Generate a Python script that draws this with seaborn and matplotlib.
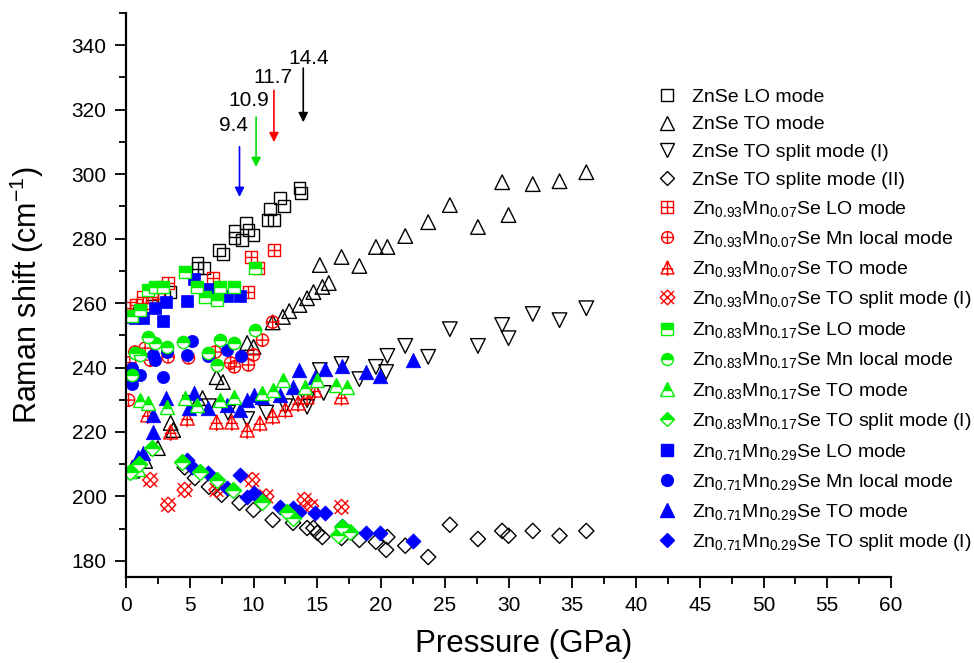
import numpy as np
import seaborn as sns
import matplotlib.pyplot as plt
from matplotlib.path import Path
from matplotlib.lines import Line2D
from matplotlib.ticker import MultipleLocator

# ---- data (pressure in GPa, Raman shift in cm-1) ----
znse_lo_x = [0.3, 1.0, 2.0, 3.0, 3.5, 5.6, 5.6, 6.1, 7.3, 7.6, 8.5, 8.5, 9.1, 9.4, 9.6, 10.0, 11.1, 11.3, 11.6, 12.1, 12.4, 13.6, 13.7]
znse_lo_y = [256, 257, 259, 262, 263.4, 270.9, 272.4, 270.9, 276.4, 275.2, 280.2, 282.3, 279.5, 284.8, 282.6, 281.1, 285.7, 289.1, 285.7, 292.6, 290.1, 295.7, 294.1]

znse_to_x = [0.5, 1.5, 2.5, 3.5, 3.7, 6.0, 7.1, 7.6, 9.5, 10.0, 11.5, 12.3, 12.8, 13.6, 14.2, 14.7, 15.4, 15.9, 15.2, 16.9, 18.3, 19.6, 20.5, 21.9, 23.7, 25.4, 27.6, 29.5, 30.0, 31.9, 34.0, 36.1]
znse_to_y = [208, 211, 215, 222.8, 220.6, 230.5, 237, 235.5, 247.6, 246.4, 254, 255.7, 257.5, 259.4, 261.5, 263.4, 265.0, 266.2, 271.8, 274.3, 271.5, 277.4, 277.4, 280.8, 285.1, 290.4, 283.6, 297.5, 287.3, 296.9, 297.8, 300.6]

znse_s1_x = [5.0, 6.5, 8.0, 9.5, 11.0, 12.5, 13.5, 14.2, 14.2, 15.2, 15.5, 16.9, 18.3, 19.6, 20.4, 20.5, 21.9, 23.7, 25.4, 27.6, 29.5, 30.0, 31.9, 34.0, 36.1]
znse_s1_y = [229, 228, 226, 224, 226, 228, 230, 229.9, 227.8, 239.2, 232.1, 241.1, 236.4, 240.2, 238.6, 243.6, 246.7, 243.3, 251.9, 246.7, 253.2, 249.1, 256.6, 254.7, 258.4]

znse_s2_x = [4.6, 5.4, 6.5, 7.5, 8.9, 10.0, 11.5, 13.1, 14.2, 14.7, 15.0, 15.4, 16.9, 18.3, 19.6, 20.4, 20.5, 21.9, 23.7, 25.4, 27.6, 29.5, 30.0, 31.9, 34.0, 36.1]
znse_s2_y = [209, 205.7, 203, 200.5, 198.0, 195.8, 192.7, 191.8, 190.2, 190.2, 188.7, 187.4, 187.1, 186.5, 185.9, 183.4, 187.4, 184.7, 181.2, 191.2, 186.8, 189.3, 187.8, 189.3, 187.8, 189.3]

mn07_lo_x = [0.3, 0.8, 1.3, 2.0, 2.5, 3.3, 6.8, 9.6, 9.8, 10.4, 11.6]
mn07_lo_y = [258.5, 259.5, 261.9, 260.0, 263.0, 266.2, 267.8, 263.4, 274.3, 270.9, 276.4]
mn07_loc_x = [0.2, 0.3, 0.7, 1.5, 1.9, 3.3, 4.9, 7.0, 8.2, 8.5, 9.6, 10.0, 10.7, 11.5]
mn07_loc_y = [229.9, 241.5, 244.8, 246.0, 242.3, 243.3, 243.0, 244.8, 241.4, 240.2, 240.8, 243.9, 248.5, 254.1]
mn07_to_x = [0.5, 1.7, 3.5, 4.8, 7.1, 8.3, 9.5, 10.5, 11.5, 12.5, 13.5, 14.2, 14.8, 16.9]
mn07_to_y = [209, 225.3, 220.0, 224.3, 223.1, 223.1, 220.6, 222.8, 225, 227, 229, 230.9, 233.0, 230.9]
mn07_s1_x = [1.9, 3.3, 4.6, 7.1, 9.9, 11.0, 14.0, 14.5, 16.9]
mn07_s1_y = [205.1, 197.4, 202.0, 202.0, 205.1, 200, 198.9, 197, 196.7]

mn17_lo_x = [0.5, 1.1, 1.7, 2.3, 2.9, 4.6, 5.6, 6.2, 7.1, 7.4, 8.5, 10.1]
mn17_lo_y = [256, 258, 264, 265, 265, 269.6, 265, 261.9, 261, 265, 265, 270.9]
mn17_loc_x = [0.5, 0.7, 1.1, 1.7, 2.3, 3.2, 4.5, 6.4, 7.1, 7.4, 8.5, 10.1]
mn17_loc_y = [237.7, 244.5, 243.9, 249.5, 247.6, 246.4, 247.9, 244.5, 240.8, 248.5, 247.6, 251.6]
mn17_to_x = [0.3, 0.9, 1.1, 1.7, 3.2, 4.6, 5.6, 7.4, 8.5, 10.7, 11.5, 12.3, 14.0, 15.0, 16.5, 17.3]
mn17_to_y = [208, 208.5, 229.9, 229.0, 227.8, 230.5, 228.4, 229.9, 230.9, 232.1, 233.0, 236.1, 234.0, 236.0, 234.6, 234.0]
mn17_s1_x = [0.3, 1.0, 2.0, 4.4, 5.8, 7.1, 8.4, 10.7, 12.6, 13.1, 16.6, 16.9, 17.6]
mn17_s1_y = [207.6, 210, 215, 210.7, 207.6, 205.1, 202.0, 198.3, 195.2, 193.3, 188.1, 190.5, 189.0]

mn29_lo_x = [0.2, 0.7, 1.3, 2.3, 2.9, 3.1, 4.8, 5.3, 6.4, 7.9, 8.9]
mn29_lo_y = [255.7, 255.3, 255.3, 258.4, 254.4, 260.3, 260.6, 267.4, 264.5, 262.2, 262.2]
mn29_loc_x = [0.5, 0.5, 1.1, 2.1, 2.3, 2.9, 3.2, 4.8, 5.2, 6.4, 7.9, 9.0]
mn29_loc_y = [234.9, 239.8, 237.7, 243.9, 242.3, 237.1, 244.8, 243.9, 248.2, 243.6, 245.4, 243.6]
mn29_to_x = [0.3, 0.5, 0.9, 1.3, 2.1, 2.1, 3.1, 4.9, 5.3, 6.4, 7.9, 8.9, 9.5, 10.0, 10.7, 12.1, 13.1, 13.6, 14.8, 15.6, 16.9, 18.8, 19.9, 22.5]
mn29_to_y = [208, 209.1, 212.2, 213.5, 220.0, 225.3, 230.5, 227.4, 232.1, 227.4, 228.4, 226.8, 229.9, 231.5, 230.9, 231.5, 234.0, 239.2, 237.1, 239.5, 240.5, 238.6, 237.4, 242.3]
mn29_s1_x = [4.8, 5.2, 6.4, 7.9, 8.9, 9.5, 10.0, 10.4, 12.1, 13.1, 13.6, 14.8, 15.6, 16.9, 18.8, 19.9, 22.5]
mn29_s1_y = [211.3, 209.1, 207.3, 202.6, 206.7, 199.8, 201.1, 199.5, 196.7, 196.4, 195.2, 194.9, 194.9, 190.9, 188.7, 188.7, 186.2]

# transition pressures marked with arrows
trans_labels = ["9.4", "10.9", "11.7", "14.4"]
trans_colors = ["#0000ff", "#00dd00", "#ff0000", "black"]
arrow_x = [8.9, 10.2, 11.6, 13.9]
arrow_top = [308.5, 317.7, 326.0, 332.9]
arrow_tip = [292.9, 302.2, 309.9, 316.1]
label_x = [8.4, 9.6, 11.5, 14.3]
label_y = [315.2, 322.9, 330.1, 336.0]

RED, GREEN, BLUE = "#ff0000", "#00ee00", "#0000ff"

sns.set_style("ticks")
plt.rcParams["font.family"] = ["Liberation Sans", "DejaVu Sans"]
plt.rcParams["mathtext.fontset"] = "custom"
plt.rcParams["mathtext.rm"] = "Liberation Sans"
plt.rcParams["mathtext.it"] = "Liberation Sans:italic"
plt.rcParams["mathtext.bf"] = "Liberation Sans:bold"
for k in ["text.color", "axes.labelcolor", "xtick.color", "ytick.color", "axes.edgecolor"]:
    plt.rcParams[k] = "black"

# custom Origin-like symbols for the x=0.07 sample
M, L, C = Path.MOVETO, Path.LINETO, Path.CLOSEPOLY
sq_plus = Path([(-1, -1), (1, -1), (1, 1), (-1, 1), (-1, -1), (0, -1), (0, 1), (-1, 0), (1, 0)],
               [M, L, L, L, C, M, L, M, L])
circ_plus = Path.make_compound_path(
    Path.unit_circle(), Path([(0, -1), (0, 1), (-1, 0), (1, 0)], [M, L, M, L]))
tri_plus = Path([(0, 1), (-1, -1), (1, -1), (0, 1), (0, 1), (0, -1.3), (-0.85, -0.2), (0.85, -0.2)],
                [M, L, L, C, M, L, M, L])
diam_x = Path([(0, 1), (1, 0), (0, -1), (-1, 0), (0, 1), (-0.9, -0.9), (0.9, 0.9), (-0.9, 0.9), (0.9, -0.9)],
              [M, L, L, L, C, M, L, M, L])

fig = plt.figure(figsize=(9.74, 6.63), dpi=100)
ax = fig.add_axes([0.1294, 0.1297, 0.7854, 0.8507])

open_kw = dict(facecolor="none", linewidth=1.0, legend=False, ax=ax)
# ZnSe (black, open)
sns.scatterplot(x=znse_lo_x, y=znse_lo_y, marker="s", s=70, edgecolor="black", **open_kw)
sns.scatterplot(x=znse_to_x, y=znse_to_y, marker="^", s=110, edgecolor="black", **open_kw)
sns.scatterplot(x=znse_s1_x, y=znse_s1_y, marker="v", s=110, edgecolor="black", **open_kw)
sns.scatterplot(x=znse_s2_x, y=znse_s2_y, marker="D", s=60, edgecolor="black", **open_kw)
# x = 0.07 (red)
sns.scatterplot(x=mn07_lo_x, y=mn07_lo_y, marker=sq_plus, s=70, edgecolor=RED, **open_kw)
sns.scatterplot(x=mn07_loc_x, y=mn07_loc_y, marker=circ_plus, s=78, edgecolor=RED, **open_kw)
sns.scatterplot(x=mn07_to_x, y=mn07_to_y, marker=tri_plus, s=170, edgecolor=RED, **open_kw)
sns.scatterplot(x=mn07_s1_x, y=mn07_s1_y, marker=diam_x, s=120, edgecolor=RED, **open_kw)
# x = 0.17 (green, half filled)
half_kw = dict(linestyle="", estimator=None, sort=False, legend=False, ax=ax, color=GREEN,
               markeredgecolor=GREEN, markeredgewidth=1.0, fillstyle="top",
               markerfacecoloralt="white")
sns.lineplot(x=mn17_lo_x, y=mn17_lo_y, marker="s", markersize=8.4, **half_kw)
sns.lineplot(x=mn17_loc_x, y=mn17_loc_y, marker="o", markersize=8.8, **half_kw)
sns.lineplot(x=mn17_to_x, y=mn17_to_y, marker="^", markersize=10.5, **half_kw)
sns.lineplot(x=mn17_s1_x, y=mn17_s1_y, marker="D", markersize=7.7, **half_kw)
# x = 0.29 (blue, filled)
fill_kw = dict(color=BLUE, edgecolor=BLUE, linewidth=0.5, legend=False, ax=ax)
sns.scatterplot(x=mn29_lo_x, y=mn29_lo_y, marker="s", s=70, **fill_kw)
sns.scatterplot(x=mn29_loc_x, y=mn29_loc_y, marker="o", s=78, **fill_kw)
sns.scatterplot(x=mn29_to_x, y=mn29_to_y, marker="^", s=110, **fill_kw)
sns.scatterplot(x=mn29_s1_x, y=mn29_s1_y, marker="D", s=60, **fill_kw)

# arrows + labels
for lab, col, xa, yt, yh, xl, yl in zip(trans_labels, trans_colors, arrow_x, arrow_top,
                                         arrow_tip, label_x, label_y):
    ax.annotate("", xy=(xa, yh), xytext=(xa, yt),
                arrowprops=dict(arrowstyle="-|>", color=col, lw=1.2, mutation_scale=14,
                                shrinkA=0, shrinkB=0))
    ax.text(xl, yl, lab, ha="center", va="center", fontsize=15)

ax.set_xlim(0, 60)
ax.set_ylim(175, 350)
ax.xaxis.set_major_locator(MultipleLocator(5))
ax.xaxis.set_minor_locator(MultipleLocator(2.5))
ax.set_yticks(np.arange(180, 341, 20))
ax.yaxis.set_minor_locator(MultipleLocator(10))
ax.tick_params(which="major", direction="out", length=8, width=1.3, labelsize=15, pad=6)
ax.tick_params(which="minor", direction="out", length=5, width=1.3)
for s in ["top", "right"]:
    ax.spines[s].set_visible(False)
for s in ["left", "bottom"]:
    ax.spines[s].set_linewidth(1.6)
ax.set_xlabel("Pressure (GPa)", fontsize=22.5)
ax.set_ylabel("Raman shift (cm$^{-1}$)", fontsize=22)
ax.xaxis.set_label_coords(0.52, -0.093)
ax.yaxis.set_label_coords(-0.104, 0.5)

# legend
def h(marker, ms, fc, ec, fill="full"):
    return Line2D([], [], linestyle="", marker=marker, markersize=ms, markerfacecolor=fc,
                  markeredgecolor=ec, markeredgewidth=1.0, fillstyle=fill,
                  markerfacecoloralt="white")

handles = [
    h("s", 8, "none", "black"), h("^", 10, "none", "black"), h("v", 10, "none", "black"),
    h("D", 7.5, "none", "black"),
    h(sq_plus, 8, "none", RED), h(circ_plus, 8.5, "none", RED), h(tri_plus, 12, "none", RED),
    h(diam_x, 10.5, "none", RED),
    h("s", 8, GREEN, GREEN, "top"), h("o", 8.5, GREEN, GREEN, "top"), h("^", 10, GREEN, GREEN, "top"),
    h("D", 7.5, GREEN, GREEN, "top"),
    h("s", 8, BLUE, BLUE), h("o", 8.5, BLUE, BLUE), h("^", 10, BLUE, BLUE), h("D", 7.5, BLUE, BLUE),
]
modes = ["LO mode", "Mn local mode", "TO mode", "TO split mode (I)"]
labels = ["ZnSe LO mode", "ZnSe TO mode", "ZnSe TO split mode (I)", "ZnSe TO splite mode (II)"]
for zn, mn in [("0.93", "0.07"), ("0.83", "0.17"), ("0.71", "0.29")]:
    labels += [f"Zn$_{{{zn}}}$Mn$_{{{mn}}}$Se {m}" for m in modes]
fig.legend(handles, labels, loc="upper left", bbox_to_anchor=(657 / 974, 1 - 88 / 663),
           frameon=False, fontsize=14, handlelength=1.0, handletextpad=0.8,
           labelspacing=0.52, borderpad=0, borderaxespad=0)

fig.savefig("out.png", dpi=100)
